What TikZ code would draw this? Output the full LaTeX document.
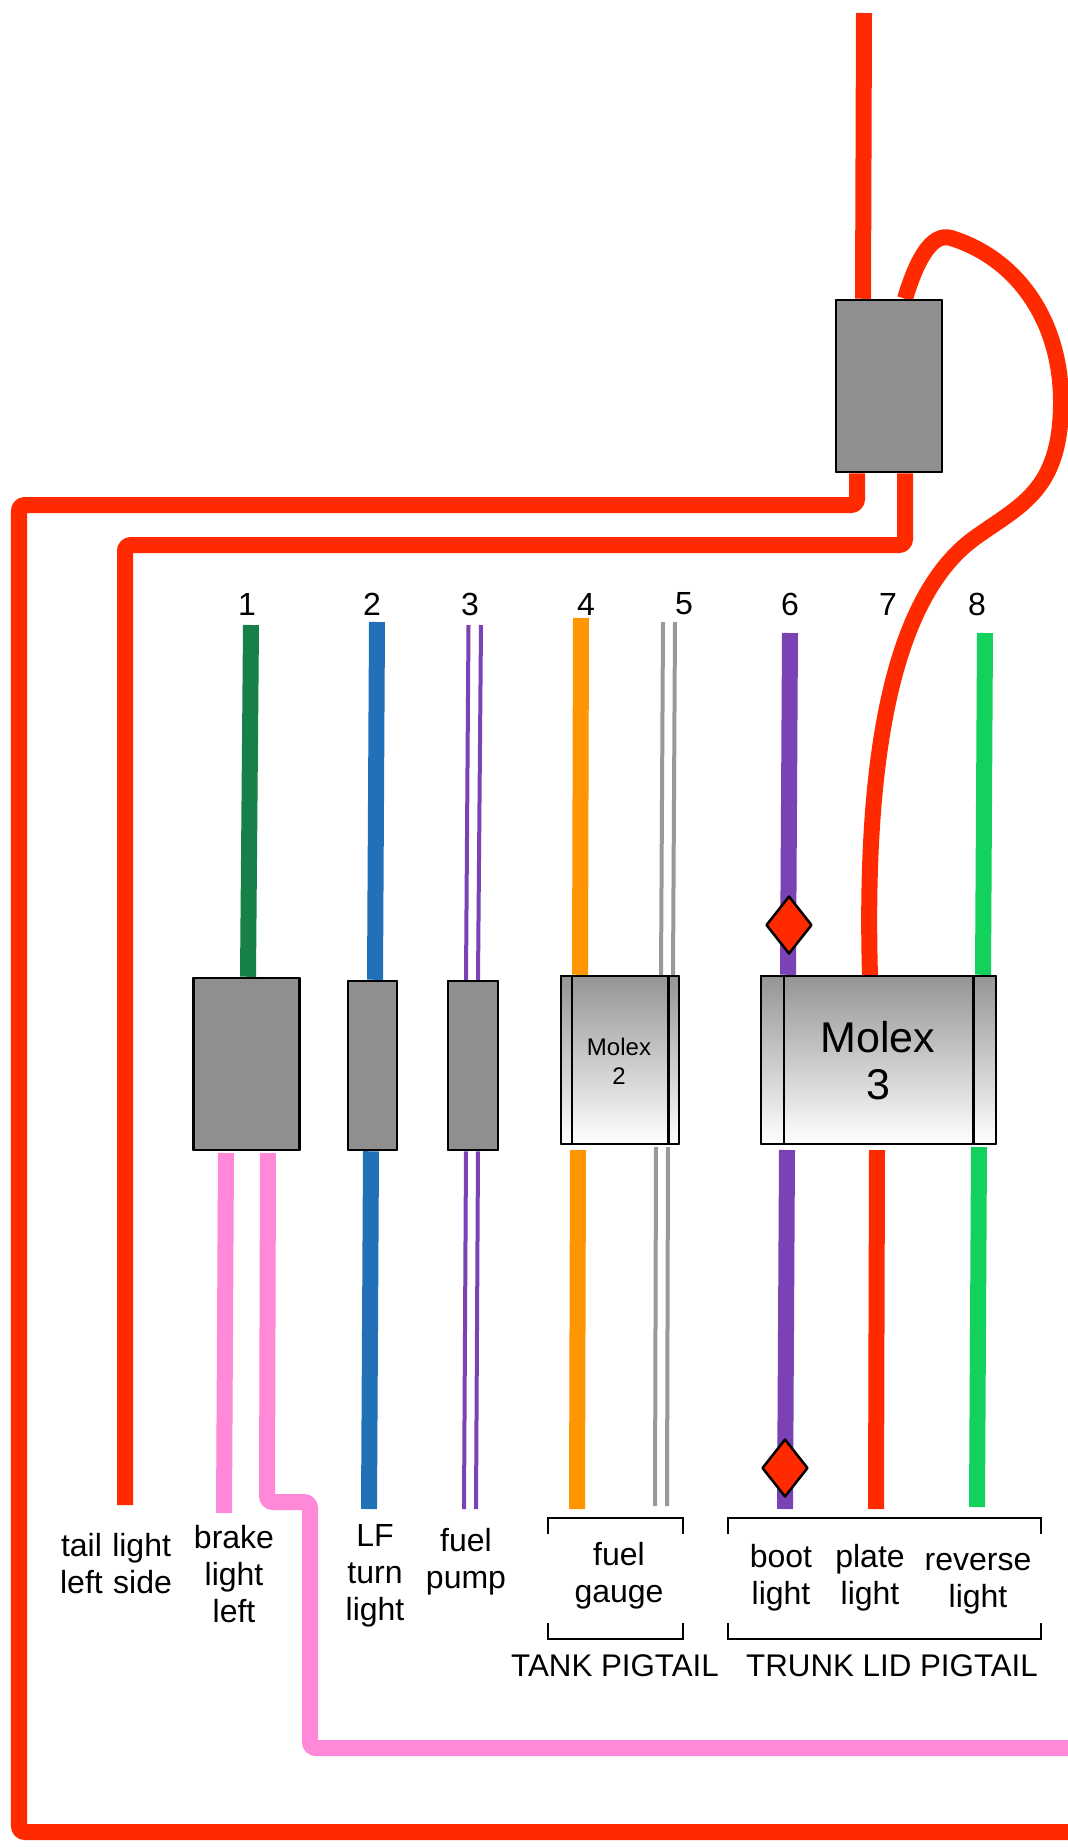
\documentclass[tikz,border=0pt]{standalone}
\usepackage{fontspec}
\setmainfont{Liberation Sans}
\usetikzlibrary{shapes.geometric}
\definecolor{wred}{HTML}{FF2A00}
\definecolor{wpink}{HTML}{FF88D8}
\definecolor{wblue}{HTML}{2270B8}
\definecolor{wdgreen}{HTML}{178048}
\definecolor{worange}{HTML}{FF9500}
\definecolor{wgray}{HTML}{999999}
\definecolor{wpurple}{HTML}{7A42B4}
\definecolor{wgreen}{HTML}{12D15C}
\definecolor{boxgray}{HTML}{8F8F8F}
\tikzset{
  wire/.style={line width=16pt,line cap=butt,rounded corners=6pt},
  thinwire/.style={line width=4pt,line cap=butt},
  plainbox/.style={draw=black,line width=2.5pt,fill=boxgray,rectangle,inner sep=0pt,line join=round},
  molexbox/.style={draw=black,line width=2.5pt,rectangle,inner sep=0pt,top color=boxgray!95!white,bottom color=white,line join=round},
  fuse/.style={draw=black,line width=2.5pt,fill=wred,diamond,aspect=0.79,minimum width=46pt,minimum height=58pt,inner sep=0pt,line join=round},
  lbl/.style={align=center,inner sep=0pt,font=\fontsize{32}{37}\selectfont},
  caplbl/.style={align=center,inner sep=0pt,font=\fontsize{31.3}{37}\selectfont},
  bracket/.style={line width=2.5pt,draw=black},
}
\begin{document}
\begin{tikzpicture}[x=1pt,y=-1pt]
\useasboundingbox (-1,0) rectangle (1067,1847);
\fill[white] (-1,0) rectangle (1067,1847);

% free ends
\coordinate (topin) at (863,13);
\coordinate (loopa) at (950,238);
\coordinate (loopb) at (1060,405);
\coordinate (loopc) at (975,537);
\coordinate (moleta) at (869,976);
\coordinate (rA) at (856,505);
\coordinate (rB) at (18,505);
\coordinate (rC) at (18,1832);
\coordinate (rD) at (1068,1832);
\coordinate (sA) at (904,545);
\coordinate (sB) at (124,545);
\coordinate (sC) at (124,1505);
\coordinate (pA) at (223,1513);
\coordinate (pB) at (266,1502);
\coordinate (pC) at (309,1502);
\coordinate (pD) at (309,1748);
\coordinate (pE) at (1068,1748);

% connector bodies
\node[plainbox,minimum width=106pt,minimum height=172pt] (relay) at (888,386) {};
\node[plainbox,minimum width=106pt,minimum height=172pt] (c1) at (245.5,1064) {};
\node[plainbox,minimum width=49pt,minimum height=169pt] (c2) at (371.5,1065.5) {};
\node[plainbox,minimum width=50pt,minimum height=169pt] (c3) at (472,1065.5) {};
\node[molexbox,minimum width=118pt,minimum height=168pt] (m2) at (619,1060) {};
\node[molexbox,minimum width=235pt,minimum height=168pt] (m3) at (877.5,1060) {};

% red harness
\draw[wire,wred] (topin) -- ([xshift=-26pt]relay.north);
\draw[wire,wred,rounded corners=0pt] ([xshift=16pt]relay.north)
  .. controls (915,262) and (930,232) .. (loopa)
  .. controls (1015,258) and (1061,320) .. (loopb)
  .. controls (1059,490) and (1020,505) .. (loopc)
  .. controls (900,590) and (862,730) .. (moleta);
\draw[wire,wred] ([xshift=-32pt]relay.south) -- (rA) -- (rB) -- (rC) -- (rD);
\draw[wire,wred] ([xshift=16pt]relay.south) -- (sA) -- (sB) -- (sC);

% wire 1
\coordinate (g1) at (250,625);
\draw[wire,wdgreen] (g1) -- ([xshift=1.5pt]c1.north);
\coordinate (p1t) at (225,1153);
\coordinate (p2t) at (267,1153);
\draw[wire,wpink] (p1t) -- (pA);
\draw[wire,wpink] (p2t) -- (pB) -- (pC) -- (pD) -- (pE);

% wire 2
\coordinate (b2t) at (376,622);
\coordinate (b2b) at (368,1509);
\draw[wire,wblue] (b2t) -- ([xshift=2.5pt]c2.north);
\draw[wire,wblue] ([xshift=-1.5pt]c2.south) -- (b2b);

% wire 3
\coordinate (v1t) at (467.5,625);
\coordinate (v2t) at (480,625);
\coordinate (v1b) at (463,1509);
\coordinate (v2b) at (475,1509);
\draw[thinwire,wpurple] (v1t) -- ([xshift=-7pt]c3.north);
\draw[thinwire,wpurple] (v2t) -- ([xshift=5pt]c3.north);
\draw[thinwire,wpurple] ([xshift=-7pt]c3.south) -- (v1b);
\draw[thinwire,wpurple] ([xshift=5pt]c3.south) -- (v2b);

% wire 4
\coordinate (o1) at (580,618);
\coordinate (o2) at (577,1150);
\coordinate (o3) at (576,1509);
\draw[wire,worange] (o1) -- ([xshift=-40pt]m2.north);
\draw[wire,worange] (o2) -- (o3);

% wire 5
\coordinate (y1) at (662,622);
\coordinate (y2) at (674,622);
\coordinate (y3) at (655,1147);
\coordinate (y4) at (667,1147);
\coordinate (y5) at (654,1506);
\coordinate (y6) at (666,1506);
\draw[thinwire,wgray] (y1) -- ([xshift=41pt]m2.north);
\draw[thinwire,wgray] (y2) -- ([xshift=53pt]m2.north);
\draw[thinwire,wgray] (y3) -- (y5);
\draw[thinwire,wgray] (y4) -- (y6);

% wire 6
\coordinate (u1) at (789,633);
\coordinate (u2) at (786,1150);
\coordinate (u3) at (784,1509);
\draw[wire,wpurple] (u1) -- ([xshift=-90.5pt]m3.north);
\draw[wire,wpurple] (u2) -- (u3);

% wire 7 lower
\coordinate (t1) at (876,1150);
\coordinate (t2) at (875,1509);
\draw[wire,wred] (t1) -- (t2);

% wire 8
\coordinate (q1) at (984,633);
\coordinate (q2) at (978,1147);
\coordinate (q3) at (976,1507);
\draw[wire,wgreen] (q1) -- ([xshift=104.5pt]m3.north);
\draw[wire,wgreen] (q2) -- (q3);

% redraw bodies on top of the wires
\node[plainbox,minimum width=106pt,minimum height=172pt] at (relay) {};
\node[plainbox,minimum width=106pt,minimum height=172pt] at (c1) {};
\node[plainbox,minimum width=49pt,minimum height=169pt] at (c2) {};
\node[plainbox,minimum width=50pt,minimum height=169pt] at (c3) {};
\node[molexbox,minimum width=118pt,minimum height=168pt] at (m2) {};
\node[molexbox,minimum width=235pt,minimum height=168pt] at (m3) {};
\draw[line width=2.5pt] ([xshift=12pt]m2.north west) -- ([xshift=12pt]m2.south west);
\draw[line width=2.5pt] ([xshift=-12pt]m2.north east) -- ([xshift=-12pt]m2.south east);
\draw[line width=2.5pt] ([xshift=24pt]m3.north west) -- ([xshift=24pt]m3.south west);
\draw[line width=2.5pt] ([xshift=-24pt]m3.north east) -- ([xshift=-24pt]m3.south east);
\node[align=center,inner sep=0pt,font=\fontsize{24}{29}\selectfont] (m2t) at (618,1061) {Molex\\2};
\node[align=center,inner sep=0pt,font=\fontsize{43}{47}\selectfont] (m3t) at (877,1061) {Molex\\3};

% fuses
\node[fuse] (f1) at (788,925) {};
\node[fuse] (f2) at (784,1468) {};

% numbers
\node[lbl] (n1) at (246,604) {1};
\node[lbl] (n2) at (371,604) {2};
\node[lbl] (n3) at (469,604) {3};
\node[lbl] (n4) at (585,604) {4};
\node[lbl] (n5) at (683,604) {5};
\node[lbl] (n6) at (789,604) {6};
\node[lbl] (n7) at (887,604) {7};
\node[lbl] (n8) at (976,604) {8};

% labels
\node[lbl] (l1) at (115,1564) {tail\hspace{1.5pt} light\\left\hspace{1.5pt} side};
\node[lbl] (l2) at (233,1574) {brake\\light\\left};
\node[lbl] (l3) at (374,1576) {LF\\turn\\light};
\node[lbl] (l4) at (465,1562) {fuel\\pump};
\node[lbl] (l5) at (618,1576) {fuel\\gauge};
\node[lbl] (l6) at (780,1578) {boot\\light};
\node[lbl] (l7) at (869,1578) {plate\\light};
\node[lbl] (l8) at (977,1584) {reverse\\light};
\node[caplbl] (l9) at (614,1666) {TANK PIGTAIL};
\node[caplbl] (l10) at (891,1666) {TRUNK LID PIGTAIL};

% brackets
\coordinate (ta) at (547,1534); \coordinate (tb) at (547,1518);
\coordinate (tc) at (682,1518); \coordinate (td) at (682,1534);
\coordinate (te) at (547,1623); \coordinate (tf) at (547,1639);
\coordinate (tg) at (682,1639); \coordinate (th) at (682,1623);
\coordinate (ua) at (727,1534); \coordinate (ub) at (727,1518);
\coordinate (uc) at (1040,1518); \coordinate (ud) at (1040,1534);
\coordinate (ue) at (727,1623); \coordinate (uf) at (727,1639);
\coordinate (ug) at (1040,1639); \coordinate (uh) at (1040,1623);
\draw[bracket] (ta) -- (tb) -- (tc) -- (td);
\draw[bracket] (te) -- (tf) -- (tg) -- (th);
\draw[bracket] (ua) -- (ub) -- (uc) -- (ud);
\draw[bracket] (ue) -- (uf) -- (ug) -- (uh);
\end{tikzpicture}
\end{document}
